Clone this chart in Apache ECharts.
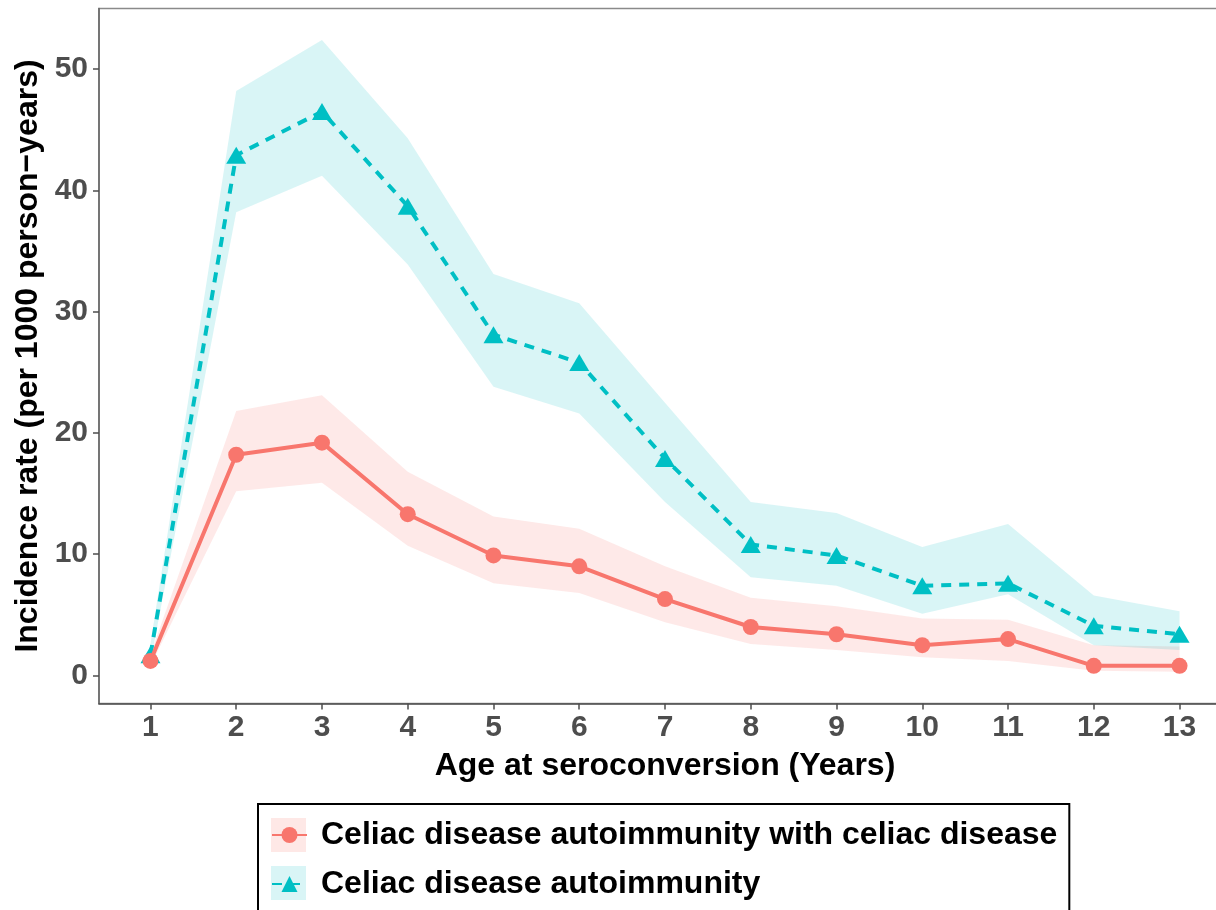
<!DOCTYPE html>
<html>
<head>
<meta charset="utf-8">
<script src="https://cdn.jsdelivr.net/npm/echarts@6/dist/echarts.min.js"></script>
<style>
html,body{margin:0;padding:0;background:#fff;}
#chart{width:1216px;height:910px;}
</style>
</head>
<body>
<div id="chart"></div>
<script>
const ages = [1, 2, 3, 4, 5, 6, 7, 8, 9, 10, 11, 12, 13];
const yTicks = [0, 10, 20, 30, 40, 50];
const cdaWithCd      = [1.2, 18.2, 19.2, 13.3, 9.9, 9.0, 6.3, 4.0, 3.4, 2.5, 3.0, 0.8, 0.8];
const cdaWithCdLower = [0.8, 15.2, 15.9, 10.7, 7.6, 6.8, 4.4, 2.6, 2.1, 1.5, 1.2, 0.4, 0.3];
const cdaWithCdUpper = [1.7, 21.8, 23.1, 16.8, 13.1, 12.1, 9.0, 6.4, 5.7, 4.7, 4.6, 2.5, 2.4];
const cda      = [1.7, 42.9, 46.5, 38.7, 28.1, 25.8, 17.9, 10.8, 9.9, 7.4, 7.6, 4.1, 3.4];
const cdaLower = [1.1, 38.2, 41.2, 33.9, 23.8, 21.6, 14.3, 8.1, 7.4, 5.1, 6.7, 2.5, 2.1];
const cdaUpper = [2.6, 48.2, 52.4, 44.3, 33.1, 30.7, 22.5, 14.3, 13.4, 10.6, 12.5, 6.6, 5.3];

const nameRed = 'Celiac disease autoimmunity with celiac disease';
const nameTeal = 'Celiac disease autoimmunity';
const RED = '#F8766D', TEAL = '#00BFC4';

function ribbon(lower, upper, fill) {
  return {
    type: 'custom',
    silent: true,
    data: ages.map((a, i) => [a, lower[i], upper[i]]),
    encode: { x: 0, y: [1, 2] },
    z: 1,
    renderItem: function (params, api) {
      if (params.dataIndex !== 0) return null;
      const pts = [];
      for (let i = 0; i < ages.length; i++) pts.push(api.coord([ages[i], upper[i]]));
      for (let i = ages.length - 1; i >= 0; i--) pts.push(api.coord([ages[i], lower[i]]));
      return { type: 'polygon', shape: { points: pts }, style: { fill: fill } };
    }
  };
}

const chart = echarts.init(document.getElementById('chart'), null, { renderer: 'canvas' });
const FONT = '"Liberation Sans", Arial, sans-serif';

chart.setOption({
  animation: false,
  backgroundColor: '#ffffff',
  textStyle: { fontFamily: FONT },
  grid: {
    left: 99, top: 8.5, width: 1132, height: 695,
    outerBoundsMode: 'none', containLabel: false,
    show: true, borderColor: '#8a8a8a', borderWidth: 1.5, backgroundColor: 'transparent'
  },
  xAxis: {
    type: 'value', min: 0.4, max: 13.6,
    name: 'Age at seroconversion (Years)', nameLocation: 'middle', nameGap: 47,
    nameTextStyle: { fontSize: 32, fontWeight: 'bold', color: '#000', fontFamily: FONT },
    axisLine: { show: true, onZero: false, lineStyle: { color: '#4d4d4d', width: 1.6 } },
    axisTick: { show: true, length: 6, customValues: ages, lineStyle: { color: '#4d4d4d', width: 1.5 } },
    axisLabel: { customValues: ages, fontSize: 30, fontWeight: 'bold', color: '#4d4d4d', margin: 9, fontFamily: FONT },
    splitLine: { show: false }
  },
  yAxis: {
    type: 'value', min: -2.31, max: 55,
    name: 'Incidence rate (per 1000 person\u2212years)', nameLocation: 'middle', nameGap: 46,
    nameTextStyle: { fontSize: 32, fontWeight: 'bold', color: '#000', fontFamily: FONT },
    axisLine: { show: true, onZero: false, lineStyle: { color: '#6a6a6a', width: 1.6 } },
    axisTick: { show: true, length: 6, customValues: yTicks, lineStyle: { color: '#4d4d4d', width: 1.5 } },
    axisLabel: { customValues: yTicks, fontSize: 30, fontWeight: 'bold', color: '#4d4d4d', margin: 11, fontFamily: FONT },
    splitLine: { show: false }
  },
  legend: {
    orient: 'vertical',
    left: 258, top: 804, height: 200,
    data: [nameRed, nameTeal],
    padding: [15, 12, 30, 13],
    borderColor: '#000', borderWidth: 2,
    itemWidth: 35, itemHeight: 20, itemGap: 17,
    textStyle: { fontSize: 32, fontWeight: 'bold', color: '#000', fontFamily: FONT, padding: [0, 0, 0, 9] }
  },
  graphic: [
    { type: 'rect', left: 271, top: 818, z: 3, shape: { width: 35, height: 34 }, style: { fill: 'rgba(248,118,109,0.17)' } },
    { type: 'rect', left: 271, top: 866, z: 3, shape: { width: 35, height: 34 }, style: { fill: 'rgba(0,191,196,0.15)' } }
  ],
  series: [
    ribbon(cdaWithCdLower, cdaWithCdUpper, 'rgba(248,118,109,0.16)'),
    ribbon(cdaLower, cdaUpper, 'rgba(0,191,196,0.15)'),
    {
      name: nameTeal, type: 'line', z: 3,
      data: ages.map((a, i) => [a, cda[i]]),
      symbol: 'triangle', symbolSize: [20, 17],
      itemStyle: { color: TEAL },
      lineStyle: { color: TEAL, width: 4, type: [10, 8] }
    },
    {
      name: nameRed, type: 'line', z: 4,
      data: ages.map((a, i) => [a, cdaWithCd[i]]),
      symbol: 'circle', symbolSize: 16,
      itemStyle: { color: RED },
      lineStyle: { color: RED, width: 4 }
    }
  ]
});
</script>
</body>
</html>
